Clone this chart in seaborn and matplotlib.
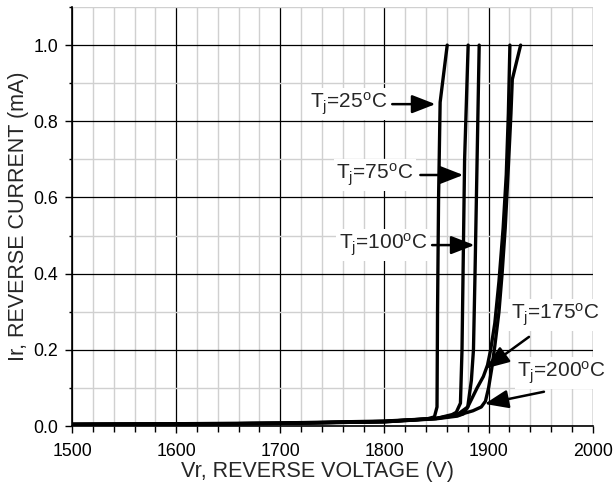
import matplotlib
matplotlib.use("Agg")
import matplotlib.pyplot as plt
import seaborn as sns
import pandas as pd
from matplotlib.ticker import MultipleLocator

sns.set_style("white")
plt.rcParams['font.family'] = ['Liberation Sans', 'DejaVu Sans']
plt.rcParams['mathtext.fontset'] = 'custom'
plt.rcParams['mathtext.rm'] = 'Liberation Sans'
plt.rcParams['mathtext.it'] = 'Liberation Sans:italic'

# ---- data ----
v_25 = [1500, 1600, 1700, 1800, 1840, 1848, 1850.5, 1851, 1852, 1853.5, 1860.3]
i_25 = [0.004, 0.005, 0.007, 0.011, 0.018, 0.024, 0.05, 0.3, 0.6, 0.85, 1.0]

v_75 = [1500, 1600, 1700, 1800, 1850, 1865, 1869, 1873, 1874.5, 1876, 1877, 1880.4]
i_75 = [0.004, 0.005, 0.007, 0.012, 0.02, 0.03, 0.036, 0.06, 0.2, 0.5, 0.7, 1.0]

v_100 = [1500, 1600, 1700, 1800, 1850, 1870, 1876, 1880, 1883.5, 1885.5, 1887, 1889, 1891]
i_100 = [0.004, 0.005, 0.007, 0.011, 0.019, 0.026, 0.032, 0.05, 0.12, 0.2, 0.4, 0.7, 1.0]

v_175 = [1500, 1600, 1700, 1800, 1850, 1870, 1880, 1889, 1895, 1899, 1902, 1906, 1910,
         1914, 1917, 1919, 1920.5]
i_175 = [0.004, 0.005, 0.007, 0.012, 0.02, 0.03, 0.05, 0.1, 0.13, 0.16, 0.2, 0.27, 0.38,
         0.52, 0.66, 0.82, 1.0]

v_200 = [1500, 1600, 1700, 1800, 1850, 1870, 1885, 1893, 1897, 1900, 1903, 1906, 1910,
         1913, 1916, 1919, 1921.5, 1922.8, 1930.8]
i_200 = [0.005, 0.006, 0.008, 0.013, 0.02, 0.028, 0.04, 0.05, 0.065, 0.1, 0.15, 0.21, 0.3,
         0.4, 0.52, 0.68, 0.82, 0.91, 1.0]

temps = ["25", "75", "100", "175", "200"]
label_text = [r"T$_\mathregular{j}$=25$^\mathregular{o}$C",
              r"T$_\mathregular{j}$=75$^\mathregular{o}$C",
              r"T$_\mathregular{j}$=100$^\mathregular{o}$C",
              r"T$_\mathregular{j}$=175$^\mathregular{o}$C",
              r"T$_\mathregular{j}$=200$^\mathregular{o}$C"]
# label text anchors (V, I) and alignment
txt_v = [1802.9, 1827.9, 1841.3, 1921.2, 1927.6]
txt_i = [0.845, 0.659, 0.475, 0.291, 0.139]
txt_ha = ["right", "right", "right", "left", "left"]
# arrow start and tip (V, I)
arr_v0 = [1807.5, 1834.5, 1845.8, 1938.8, 1953.2]
arr_i0 = [0.845, 0.659, 0.475, 0.234, 0.090]
arr_v1 = [1849, 1875.7, 1886.5, 1897.1, 1896.2]
arr_i1 = [0.845, 0.659, 0.475, 0.151, 0.058]

x_ticks = [1500, 1600, 1700, 1800, 1900, 2000]
y_ticks = [0.0, 0.2, 0.4, 0.6, 0.8, 1.0]

frames = []
for t, v, i in zip(temps, [v_25, v_75, v_100, v_175, v_200],
                   [i_25, i_75, i_100, i_175, i_200]):
    frames.append(pd.DataFrame({"V": v, "I": i, "T": t}))
df = pd.concat(frames, ignore_index=True)

fig = plt.figure(figsize=(6.14, 4.84), dpi=100)
ax = fig.add_axes([0.1173, 0.1198, 0.848, 0.8657])

sns.lineplot(data=df, x="V", y="I", hue="T", palette=["black"] * 5, legend=False,
             sort=False, estimator=None, linewidth=2.4, ax=ax, zorder=5)

ax.set_xlim(1500, 2000)
ax.set_ylim(0, 1.1)
ax.set_xticks(x_ticks)
ax.set_yticks(y_ticks)
ax.set_yticklabels([f"{y:.1f}" for y in y_ticks])
ax.xaxis.set_minor_locator(MultipleLocator(20))
ax.yaxis.set_minor_locator(MultipleLocator(0.1))
ax.grid(which="minor", color="#d0d0d0", linewidth=1.0, zorder=0)
ax.grid(which="major", color="black", linewidth=0.9, zorder=1)
ax.set_axisbelow(True)

for s in ["top", "right"]:
    ax.spines[s].set_visible(False)
for s in ["left", "bottom"]:
    ax.spines[s].set_color("black")
    ax.spines[s].set_linewidth(1.2)

ax.tick_params(axis="x", which="major", direction="out", length=5, width=1,
               colors="black", labelsize=12.8, bottom=True, pad=7)
ax.tick_params(axis="y", which="major", direction="out", length=5, width=1,
               colors="black", labelsize=12.8, left=True, pad=5)
ax.tick_params(axis="x", which="minor", direction="out", length=4, width=1,
               colors="black", bottom=True)
ax.tick_params(axis="y", which="minor", direction="out", length=2.5, width=1,
               colors="black", left=True)

ax.set_xlabel("Vr, REVERSE VOLTAGE (V)", fontsize=15.5, labelpad=1)
ax.xaxis.label.set_x(0.472)
ax.set_ylabel("Ir, REVERSE CURRENT (mA)", fontsize=15.5, labelpad=3)

for k in range(5):
    ax.text(txt_v[k], txt_i[k], label_text[k], fontsize=15, ha=txt_ha[k], va="center",
            zorder=10, bbox=dict(boxstyle="square,pad=0.12", fc="white", ec="none"))
    ax.annotate("", xy=(arr_v1[k], arr_i1[k]), xytext=(arr_v0[k], arr_i0[k]), zorder=11,
                arrowprops=dict(arrowstyle="-|>,head_length=0.9,head_width=0.35",
                                color="black", lw=1.8, mutation_scale=16,
                                shrinkA=0, shrinkB=0))

fig.savefig("out.png", dpi=100)
